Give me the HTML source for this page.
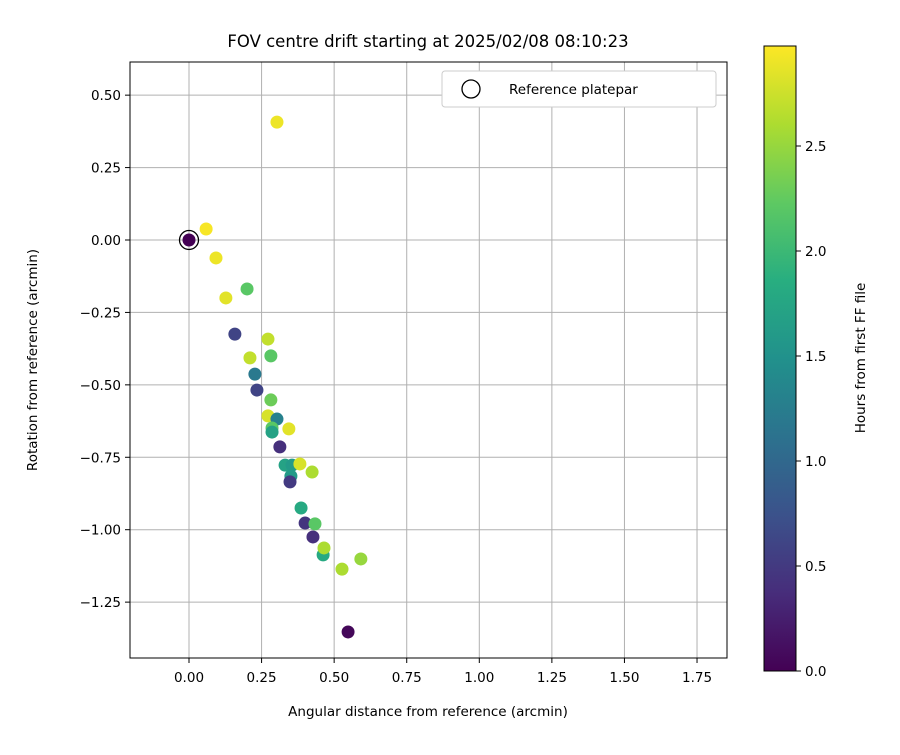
<!DOCTYPE html>
<html><head><meta charset="utf-8"><style>
body{margin:0;background:#fff}
svg text{font-family:"DejaVu Sans","Liberation Sans",sans-serif;fill:#000}
</style></head><body>
<svg id="c" width="900" height="750" xmlns="http://www.w3.org/2000/svg">
<defs>
<linearGradient id="vir" x1="0" y1="1" x2="0" y2="0">
<stop offset="0" stop-color="#440154"/><stop offset="0.125" stop-color="#472d7b"/>
<stop offset="0.25" stop-color="#3b528b"/><stop offset="0.375" stop-color="#2c728e"/>
<stop offset="0.5" stop-color="#21918c"/><stop offset="0.625" stop-color="#28ae80"/>
<stop offset="0.75" stop-color="#5ec962"/><stop offset="0.875" stop-color="#addc30"/>
<stop offset="1" stop-color="#fde725"/>
</linearGradient>
<clipPath id="clip"><rect x="130" y="62" width="597" height="596"/></clipPath>
</defs>
<text x="428" y="47" font-size="16.5" text-anchor="middle">FOV centre drift starting at 2025/02/08 08:10:23</text>
<g id="grid"></g>
<g id="pts" clip-path="url(#clip)"></g>
<rect x="130" y="62" width="597" height="596" fill="none" stroke="#000" stroke-width="1"/>
<g id="ticks"></g>
<text x="428" y="716" font-size="13.5" text-anchor="middle">Angular distance from reference (arcmin)</text>
<text transform="translate(37,360) rotate(-90)" font-size="13.5" text-anchor="middle">Rotation from reference (arcmin)</text>
<g>
<rect x="442" y="71" width="274" height="36" rx="3" fill="#fff" stroke="#ccc"/>
<circle cx="471" cy="89" r="9" fill="none" stroke="#000" stroke-width="1.3"/>
<text x="509" y="94" font-size="13.5">Reference platepar</text>
</g>
<rect x="764" y="46" width="32" height="625" fill="url(#vir)" stroke="#000" stroke-width="1"/>
<g id="cbt"></g>
<text transform="translate(865,358) rotate(-90)" font-size="13.5" text-anchor="middle">Hours from first FF file</text>
</svg>
<script>
const xs=[0.0,0.059,0.093,0.127,0.200,0.303,0.158,0.272,0.210,0.282,0.227,0.234,0.282,0.272,0.303,0.286,0.286,0.344,0.313,0.331,0.355,0.382,0.424,0.351,0.348,0.386,0.400,0.434,0.427,0.462,0.465,0.527,0.592,0.548];
const ys=[0.0,0.038,-0.062,-0.200,-0.169,0.407,-0.325,-0.342,-0.407,-0.400,-0.463,-0.518,-0.552,-0.607,-0.618,-0.649,-0.663,-0.652,-0.714,-0.777,-0.777,-0.773,-0.801,-0.815,-0.835,-0.925,-0.977,-0.980,-1.025,-1.087,-1.063,-1.136,-1.101,-1.353];
const hours=[0.0,2.95,2.9,2.85,2.2,2.9,0.6,2.7,2.7,2.2,1.2,0.6,2.3,2.8,1.3,2.2,1.7,2.85,0.4,1.7,1.6,2.8,2.6,1.6,0.5,1.8,0.45,2.2,0.4,1.8,2.6,2.6,2.5,0.05];
const xTicks=[0,0.25,0.5,0.75,1.0,1.25,1.5,1.75];
const yTicks=[0.5,0.25,0,-0.25,-0.5,-0.75,-1.0,-1.25];
const cTicks=[0,0.5,1.0,1.5,2.0,2.5];
const X=v=>189+v*290.3, Y=v=>240-v*289.7, C=v=>671-v*210;
const vir=["#440154","#472d7b","#3b528b","#2c728e","#21918c","#28ae80","#5ec962","#addc30","#fde725"];
function col(h){let t=Math.max(0,Math.min(1,h/2.976))*8,i=Math.min(7,Math.floor(t)),f=t-i;
 const a=vir[i],b=vir[i+1],p=(s,k)=>parseInt(s.substr(k,2),16);
 return "rgb("+[1,3,5].map(k=>Math.round(p(a,k)+(p(b,k)-p(a,k))*f)).join(",")+")";}
const NS="http://www.w3.org/2000/svg";
function mk(par,tag,at){const e=document.createElementNS(NS,tag);for(const k in at)e.setAttribute(k,at[k]);document.getElementById(par).appendChild(e);return e;}
xTicks.forEach(v=>{
 const l=mk("grid","line",{x1:X(v),x2:X(v),y1:62,y2:658,stroke:"#b0b0b0","stroke-width":1});
 
 
 const t=mk("ticks","line",{x1:X(v),x2:X(v),y1:658,y2:663,stroke:"#000"});
 
 
 const tx=mk("ticks","text",{x:X(v),y:682,"font-size":13.5,"text-anchor":"middle"});tx.textContent=v.toFixed(2);
 
 
});
yTicks.forEach(v=>{
 const l=mk("grid","line",{x1:130,x2:727,y1:Y(v),y2:Y(v),stroke:"#b0b0b0","stroke-width":1});
 
 
 const t=mk("ticks","line",{x1:125,x2:130,y1:Y(v),y2:Y(v),stroke:"#000"});
 
 
 const tx=mk("ticks","text",{x:121,y:Y(v)+5,"font-size":13.5,"text-anchor":"end"});tx.textContent=(v<0?"\u2212":"")+Math.abs(v).toFixed(2);
 
 
});
cTicks.forEach(v=>{
 const t=mk("cbt","line",{x1:796,x2:801,y1:C(v),y2:C(v),stroke:"#000"});
 
 
 const tx=mk("cbt","text",{x:805,y:C(v)+5,"font-size":13.5});tx.textContent=v.toFixed(1);
 
 
});
xs.forEach((v,i)=>{
 const c=mk("pts","circle",{cx:X(v),cy:Y(ys[i]),r:6.5,fill:col(hours[i])});
 
 
});
const r=mk("pts","circle",{cx:X(0),cy:Y(0),r:9.5,fill:"none",stroke:"#000","stroke-width":1.3});


</script>
</body></html>
